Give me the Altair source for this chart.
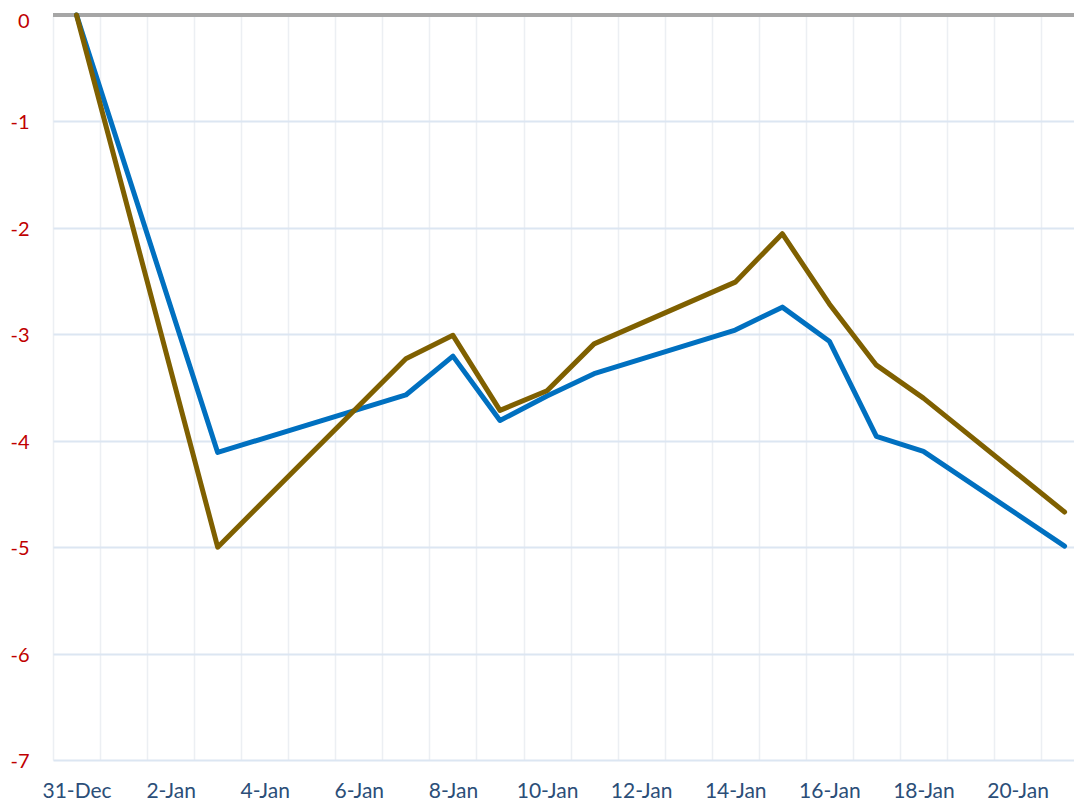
import json
import altair as alt
import pandas as pd

# Category axis (one band per day)
all_days = ["31-Dec", "1-Jan", "2-Jan", "3-Jan", "4-Jan", "5-Jan", "6-Jan", "7-Jan",
            "8-Jan", "9-Jan", "10-Jan", "11-Jan", "12-Jan", "13-Jan", "14-Jan",
            "15-Jan", "16-Jan", "17-Jan", "18-Jan", "19-Jan", "20-Jan", "21-Jan"]

dates = ["31-Dec", "3-Jan", "7-Jan", "8-Jan", "9-Jan", "10-Jan", "11-Jan",
         "14-Jan", "15-Jan", "16-Jan", "17-Jan", "18-Jan", "21-Jan"]
blue_values = [0, -4.11, -3.57, -3.205, -3.81, -3.58, -3.37,
               -2.96, -2.745, -3.065, -3.96, -4.10, -4.99]
gold_values = [0, -5.0, -3.23, -3.01, -3.715, -3.53, -3.09,
               -2.51, -2.055, -2.715, -3.29, -3.60, -4.67]

y_ticks = [-7, -6, -5, -4, -3, -2, -1, 0]

rows = []
for d, v in zip(dates, blue_values):
    rows.append({"day": all_days.index(d), "date": d, "value": v, "series": "Series 1"})
for d, v in zip(dates, gold_values):
    rows.append({"day": all_days.index(d), "date": d, "value": v, "series": "Series 2"})
df = pd.DataFrame(rows)

W, H = 1021, 745
x_max = 21.2
step = W / (x_max + 0.5)

label_expr = ("(datum.value + 0.5) % 2 == 0 ? " + json.dumps(all_days) +
              "[datum.value + 0.5] : ''")

x_enc = alt.X(
    "day:Q",
    scale=alt.Scale(domain=[-0.5, x_max], nice=False, zero=False),
    axis=alt.Axis(
        values=[i - 0.5 for i in range(22)],
        labelExpr=label_expr,
        labelOffset=step / 2,
        labelFlush=False,
        labelOverlap=False,
        labelFont="Lato",
        labelFontSize=21,
        labelColor="#2B4E78",
        labelPadding=20,
        ticks=False,
        domain=False,
        grid=True,
        gridColor="#ECEFF3",
        gridWidth=1.5,
        title=None,
    ),
)

y_enc = alt.Y(
    "value:Q",
    scale=alt.Scale(domain=[-7, 0], nice=False, zero=False),
    axis=alt.Axis(
        values=y_ticks,
        labelExpr="datum.value + ''",
        labelFont="Lato",
        labelFontSize=20,
        labelColor="#C00000",
        labelPadding=24,
        labelOffset={"condition": {"test": "datum.value == 0", "value": 6}, "value": 1.5},
        labelFlush=False,
        ticks=False,
        domain=False,
        grid=True,
        gridColor="#DCE6F2",
        gridWidth=2,
        title=None,
    ),
)

zero_df = pd.DataFrame({"value": [0]})
zero_rule = alt.Chart(zero_df).mark_rule(color="#A6A6A6", strokeWidth=4).encode(y=y_enc)

color_scale = alt.Scale(domain=["Series 1", "Series 2"], range=["#0070C0", "#7F6000"])

blue = alt.Chart(df[df.series == "Series 1"]).mark_line(
    strokeWidth=5, strokeCap="round", strokeJoin="round"
).encode(x=x_enc, y=y_enc, color=alt.Color("series:N", scale=color_scale, legend=None))

gold = alt.Chart(df[df.series == "Series 2"]).mark_line(
    strokeWidth=5, strokeCap="round", strokeJoin="round"
).encode(x=x_enc, y=y_enc, color=alt.Color("series:N", scale=color_scale, legend=None))

chart = alt.layer(zero_rule, blue, gold).properties(
    width=W,
    height=H,
    autosize=alt.AutoSizeParams(type="none"),
    padding={"left": 45, "top": 7, "right": 0, "bottom": 44},
    background="white",
).configure_view(stroke=None)

chart.save("out.html", embed_options={"renderer": "svg", "actions": False})
